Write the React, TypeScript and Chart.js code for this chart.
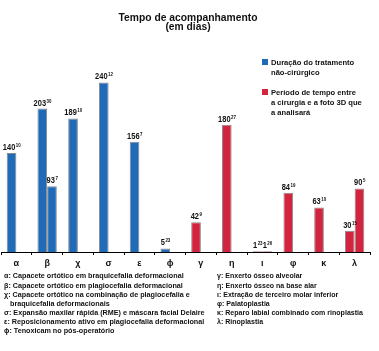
import React, { useEffect, useRef } from "react";
import { Chart, registerables } from "chart.js";

Chart.register(...registerables);

const categories = ["α", "β", "χ", "σ", "ε", "ϕ", "γ", "η", "ι", "φ", "κ", "λ"];
const firstValues = [140, 203, 189, 240, 156, 5, 42, 180, 1, 84, 63, 30];
const firstRefs = ["10", "30", "10", "12", "7", "23", "9", "27", "23", "19", "10", "15"];
const secondValues = [null, 93, null, null, null, null, null, null, 1, null, null, 90];
const secondRefs = [null, "7", null, null, null, null, null, null, "26", null, null, "5"];
const categoryGroup = ["nc", "nc", "nc", "nc", "nc", "nc", "s", "s", "s", "s", "s", "s"];

const titleLines = ["Tempo de acompanhamento", "(em dias)"];
const legendBlue = ["Duração do tratamento", "não-cirúrgico"];
const legendRed = ["Período de tempo entre", "a cirurgia e a foto 3D que", "a analisará"];
const notesLeft = [
  "α: Capacete ortótico em braquicefalia deformacional",
  "β: Capacete ortótico em plagiocefalia deformacional",
  "χ: Capacete ortótico na combinação de plagiocefalia e",
  "   braquicefalia deformacionais",
  "σ: Expansão maxilar rápida (RME) e máscara facial Delaire",
  "ε: Reposicionamento ativo em plagiocefalia deformacional",
  "ϕ: Tenoxicam no pós-operatório",
];
const notesRight = [
  "γ: Enxerto ósseo alveolar",
  "η: Enxerto ósseo na base alar",
  "ι: Extração de terceiro molar inferior",
  "φ: Palatoplastia",
  "κ: Reparo labial combinado com rinoplastia",
  "λ: Rinoplastia",
];

const BLUE = "#1F6BB8";
const RED = "#D3243F";
const FONT = '"Liberation Sans", Arial, sans-serif';

function drawT(ctx: CanvasRenderingContext2D, text: string, x: number, y: number, size: number, bold: boolean, align: string, sx: number) {
  ctx.save();
  ctx.font = `${bold ? "bold " : ""}${size}px ${FONT}`;
  ctx.textBaseline = "alphabetic";
  ctx.textAlign = "left";
  const w = ctx.measureText(text).width * sx;
  const left = align === "center" ? x - w / 2 : align === "right" ? x - w : x;
  ctx.translate(left, y);
  ctx.scale(sx, 1);
  ctx.fillStyle = "#111";
  ctx.fillText(text, 0, 0);
  ctx.restore();
  return w;
}

function measure(ctx: CanvasRenderingContext2D, text: string, size: number, bold: boolean, sx: number) {
  ctx.save();
  ctx.font = `${bold ? "bold " : ""}${size}px ${FONT}`;
  const w = ctx.measureText(text).width * sx;
  ctx.restore();
  return w;
}

const overlayPlugin = {
  id: "overlay",
  afterDatasetsDraw(chart: any) {
    const ctx: CanvasRenderingContext2D = chart.ctx;
    const refs = [firstRefs, secondRefs];
    chart.data.datasets.forEach((ds: any, di: number) => {
      const meta = chart.getDatasetMeta(di);
      meta.data.forEach((el: any, i: number) => {
        const v = ds.data[i];
        if (v === null || v === undefined) return;
        const main = String(v);
        const sup = refs[di][i] || "";
        const sx = 0.88;
        const mw = measure(ctx, main, 8.5, true, sx);
        const sw = measure(ctx, sup, 5, true, sx);
        const start = el.x - (mw + sw) / 2;
        const base = el.y - 3;
        drawT(ctx, main, start, base, 8.5, true, "left", sx);
        drawT(ctx, sup, start + mw + 0.5, base - 3, 5, true, "left", sx);
      });
    });
  },
  afterDraw(chart: any) {
    const ctx: CanvasRenderingContext2D = chart.ctx;
    // title
    drawT(ctx, titleLines[0], 188, 21, 10.3, true, "center", 1);
    drawT(ctx, titleLines[1], 188, 30, 10.3, true, "center", 1);
    // legend
    ctx.fillStyle = BLUE;
    ctx.fillRect(262, 59, 6, 6);
    ctx.fillStyle = RED;
    ctx.fillRect(262, 89, 6, 6);
    legendBlue.forEach((t, i) => drawT(ctx, t, 271, 65 + i * 10, 8, true, "left", 0.95));
    legendRed.forEach((t, i) => drawT(ctx, t, 271, 95 + i * 10, 8, true, "left", 0.95));
    // notes
    const leftBase = [278, 287.5, 297, 305.5, 315, 324, 333];
    const rightBase = [278, 287.5, 297, 306, 315, 324];
    notesLeft.forEach((t, i) => drawT(ctx, t, 4, leftBase[i], 8, true, "left", 0.9));
    notesRight.forEach((t, i) => drawT(ctx, t, 217, rightBase[i], 8, true, "left", 0.88));
  },
};

export default function App() {
  const ref = useRef<HTMLCanvasElement | null>(null);
  useEffect(() => {
    document.body.style.margin = "0";
    if (!ref.current) return;
    const colors = categoryGroup.map((g) => (g === "nc" ? BLUE : RED));
    const chart = new Chart(ref.current, {
      type: "bar",
      data: {
        labels: categories,
        datasets: [
          {
            label: "slot1",
            data: firstValues,
            backgroundColor: colors,
            borderColor: "#8a8a8a",
            borderWidth: 1,
            categoryPercentage: 0.63,
            barPercentage: 1,
          },
          {
            label: "slot2",
            data: secondValues,
            backgroundColor: colors,
            borderColor: "#8a8a8a",
            borderWidth: 1,
            categoryPercentage: 0.63,
            barPercentage: 1,
          },
        ],
      },
      options: {
        animation: false,
        responsive: true,
        maintainAspectRatio: false,
        layout: { padding: { top: 40, bottom: 75, left: 1, right: 9 } },
        plugins: { legend: { display: false }, title: { display: false }, tooltip: { enabled: false } },
        scales: {
          x: {
            afterFit: (s: any) => {
              s.height = 24;
            },
            grid: { display: true, drawOnChartArea: false, drawTicks: true, tickLength: 3, color: "#000", offset: true },
            border: { display: true, color: "#000", width: 1 },
            ticks: { color: "#111", font: { family: FONT, size: 9, weight: "bold" }, padding: 3 },
          },
          y: { display: false, min: 0, max: 300 },
        },
      },
      plugins: [overlayPlugin],
    } as any);
    return () => chart.destroy();
  }, []);
  return (
    <div style={{ position: "relative", width: 379, height: 351 }}>
      <canvas ref={ref} />
    </div>
  );
}
